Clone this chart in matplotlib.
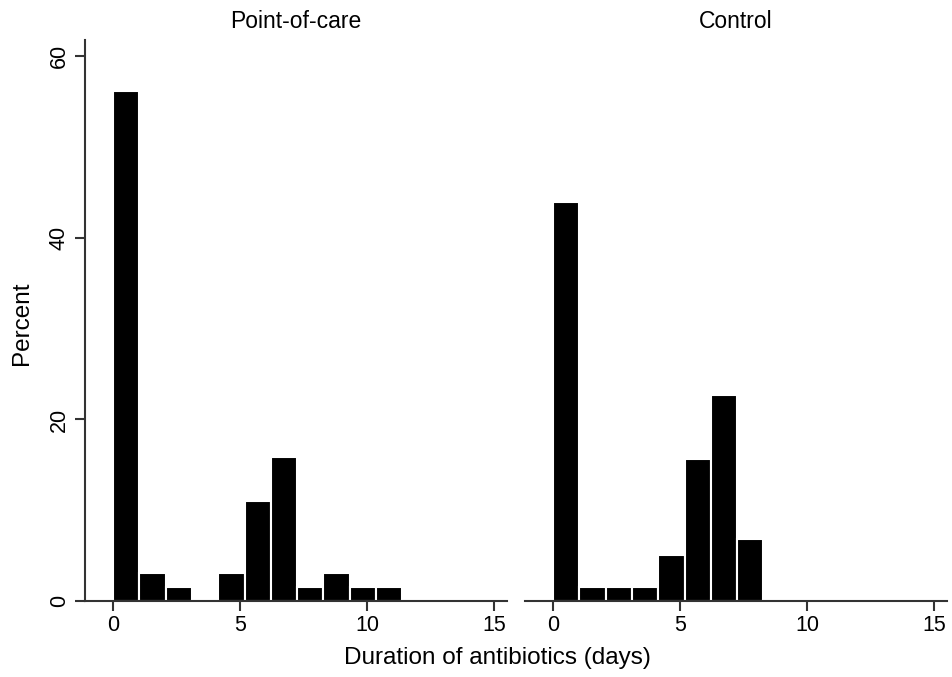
import matplotlib
matplotlib.use("Agg")
import matplotlib.pyplot as plt
import numpy as np

plt.rcParams['font.family'] = ['Liberation Sans', 'DejaVu Sans']

# Data (percent per bin), bins start at 0 with width ~1.035 days
bin_start = 0.0
bin_width = 1.035
poc_percent = [56.2, 3.1, 1.5, 0.0, 3.1, 11.0, 15.9, 1.5, 3.1, 1.5, 1.5]
ctrl_percent = [43.9, 1.5, 1.5, 1.5, 5.1, 15.6, 22.7, 6.8]
panel_titles = ["Point-of-care", "Control"]
x_ticks = [0, 5, 10, 15]
y_ticks = [0, 20, 40, 60]
xlabel = "Duration of antibiotics (days)"
ylabel = "Percent"

W, H = 952, 677
fig = plt.figure(figsize=(W / 100, H / 100), dpi=100)
ax1 = fig.add_axes([85 / W, 1 - 601 / H, (507 - 85) / W, (601 - 40) / H])
ax2 = fig.add_axes([525 / W, 1 - 601 / H, (947 - 525) / W, (601 - 40) / H])

spine_color = "#333333"
tick_fs = 15.5
label_fs = 17.5
title_fs = 16.5

for ax, vals, title in [(ax1, poc_percent, panel_titles[0]), (ax2, ctrl_percent, panel_titles[1])]:
    lefts = bin_start + bin_width * np.arange(len(vals))
    ax.bar(lefts, vals, width=bin_width, align='edge', color='black',
           edgecolor='white', linewidth=1.5)
    ax.set_xlim(-1.1, 15.5)
    ax.set_ylim(0, 61.8)
    ax.set_xticks(x_ticks)
    ax.set_xticklabels([str(t) for t in x_ticks], fontsize=tick_fs)
    for s in ['top', 'right']:
        ax.spines[s].set_visible(False)
    ax.spines['bottom'].set_color(spine_color)
    ax.spines['bottom'].set_linewidth(1.5)
    ax.tick_params(axis='x', length=7, width=1.5, color=spine_color, pad=3)
    pos = ax.get_position()
    fig.text((pos.x0 + pos.x1) / 2, 1 - 22 / H, title, ha='center', va='center',
             fontsize=title_fs)

ax1.spines['left'].set_color(spine_color)
ax1.spines['left'].set_linewidth(1.5)
ax1.set_yticks(y_ticks)
ax1.set_yticklabels([str(t) for t in y_ticks], fontsize=tick_fs, rotation=90, va='center')
ax1.tick_params(axis='y', length=7, width=1.5, color=spine_color, pad=4)

ax2.spines['left'].set_visible(False)
ax2.set_yticks([])

fig.text(22 / W, 1 - 323 / H, ylabel, ha='center', va='center', rotation=90,
         fontsize=label_fs)
fig.text(497 / W, 1 - 658 / H, xlabel, ha='center', va='center', fontsize=label_fs)

fig.savefig("out.png", dpi=100, facecolor='white')
